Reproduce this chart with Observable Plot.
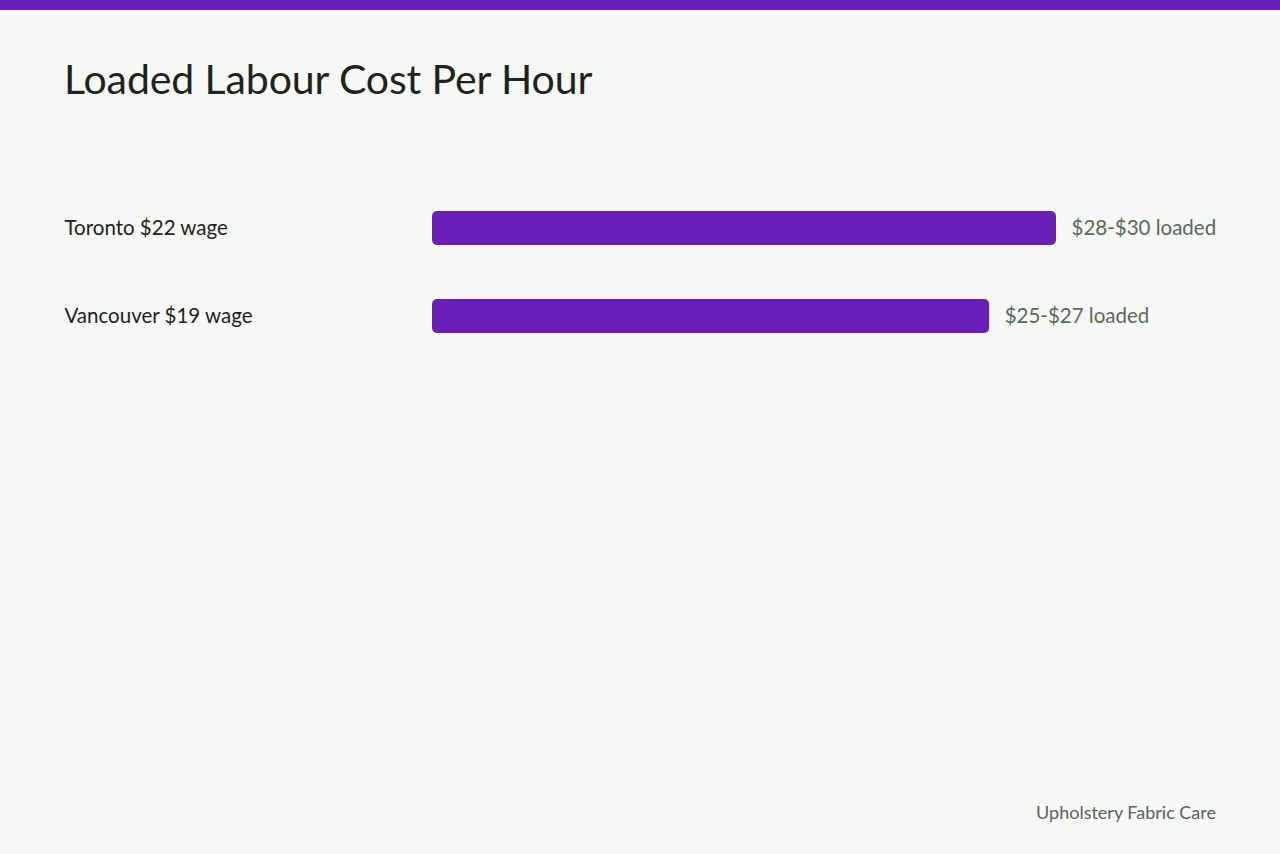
<!DOCTYPE html>
<html>
<head>
<meta charset="utf-8">
<script src="https://cdn.jsdelivr.net/npm/d3@7"></script>
<script src="https://cdn.jsdelivr.net/npm/@observablehq/plot@0.6"></script>
<style>
  html, body { margin: 0; padding: 0; }
  body { width: 1280px; height: 854px; background: #f6f8f5; position: relative; overflow: hidden; font-family: Lato, "Noto Sans", sans-serif; }
  .strip { position: absolute; left: 0; top: 0; width: 1280px; height: 10px; background: #6a1fb8; }
  h1 { position: absolute; left: 64px; top: 54px; margin: 0; font-weight: 400; font-size: 41px; color: #1c241c; line-height: 1.2; letter-spacing: -0.1px; }
  #chart { position: absolute; left: 0; top: 156px; }
  .footer { position: absolute; right: 64px; top: 801px; font-size: 18px; color: #5a645a; }
</style>
</head>
<body>
<div class="strip"></div>
<h1>Loaded Labour Cost Per Hour</h1>
<div id="chart"></div>
<div class="footer">Upholstery Fabric Care</div>
<script>
const cities = ["Toronto", "Vancouver"];
const wageLabels = ["Toronto $22 wage", "Vancouver $19 wage"];
const loadedLow = [28, 25];
const loadedHigh = [30, 27];

const data = cities.map((c, i) => ({
  city: c,
  label: wageLabels[i],
  low: loadedLow[i],
  high: loadedHigh[i],
  text: `$${loadedLow[i]}-$${loadedHigh[i]} loaded`
}));

const chart = Plot.plot({
  width: 1280,
  height: 232,
  marginLeft: 432,
  marginRight: 224,
  marginTop: 0,
  marginBottom: 0,
  style: { background: "transparent", fontFamily: "Lato, 'Noto Sans', sans-serif" },
  x: { domain: [0, 28], axis: null },
  y: { domain: cities, axis: null, paddingInner: 0.61, paddingOuter: 0.61 },
  marks: [
    Plot.barX(data, { y: "city", x: "low", fill: "#6a1fb8", rx: 5 }),
    Plot.text(data, { y: "city", text: "label", frameAnchor: "left", dx: -368, textAnchor: "start", fontSize: 20.5, fill: "#1c241c" }),
    Plot.text(data, { y: "city", x: "low", text: "text", dx: 15, textAnchor: "start", fontSize: 20.5, fill: "#5a6a58" })
  ]
});
document.getElementById("chart").appendChild(chart);
</script>
</body>
</html>
